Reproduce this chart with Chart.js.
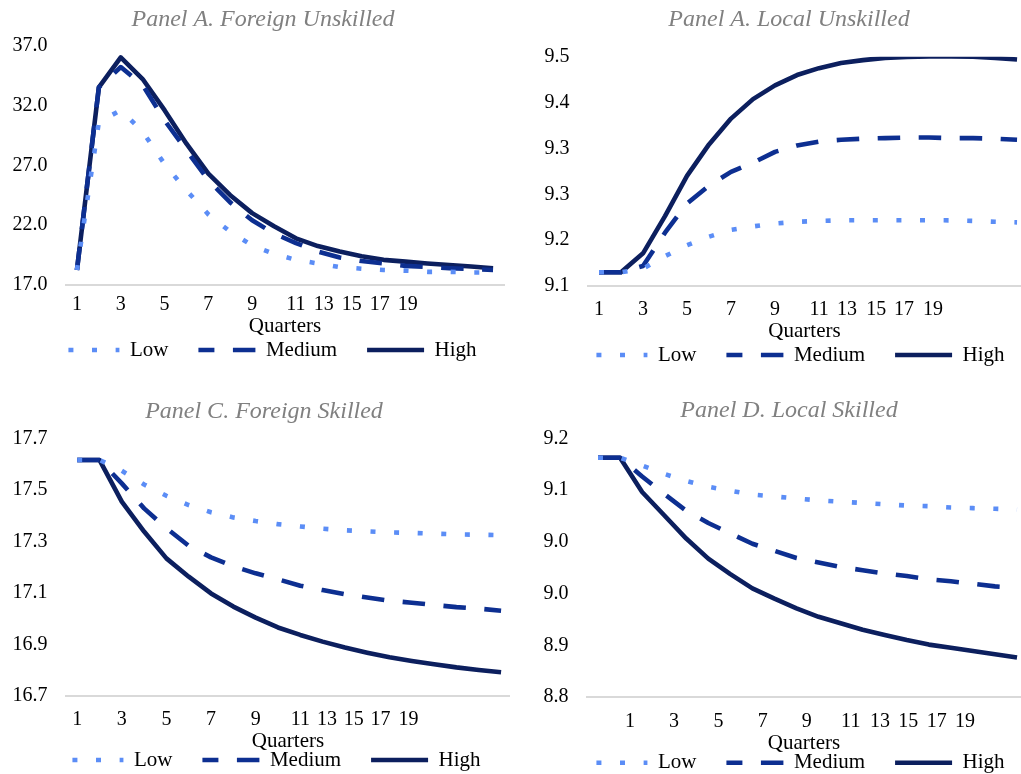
<!DOCTYPE html>
<html>
<head>
<meta charset="utf-8">
<title>Wage responses</title>
<script src="https://cdn.jsdelivr.net/npm/chart.js@4.4.1/dist/chart.umd.min.js"></script>
<style>
  html, body { margin: 0; padding: 0; background: #fff; width: 1021px; height: 774px; overflow: hidden; }
  canvas { position: absolute; }
</style>
</head>
<body>
<canvas id="panelA" width="510" height="401" style="left:0;top:0"></canvas>
<canvas id="panelB" width="511" height="406" style="left:510px;top:0"></canvas>
<canvas id="panelC" width="510" height="426" style="left:0;top:390px"></canvas>
<canvas id="panelD" width="511" height="427" style="left:510px;top:390px"></canvas>
<script>
Chart.defaults.font.family = "'Liberation Serif', 'Times New Roman', serif";
Chart.defaults.color = '#000';

// x categories and the tick labels shown under each panel
const quarters = [1, 2, 3, 4, 5, 6, 7, 8, 9, 10, 11, 12, 13, 14, 15, 16, 17, 18, 19, 20];
const quarterTicks = ['1', '3', '5', '7', '9', '11', '13', '15', '17', '19'];
const seriesNames = ['Low', 'Medium', 'High'];

// Panel A. Foreign Unskilled
const foreignUnskilledLow = [18.25, 30.6, 31.6, 29.8, 27.1, 24.9, 22.9, 21.45, 20.3, 19.6, 19.1, 18.8, 18.5, 18.36, 18.25, 18.2, 18.1, 18.1, 18.05, 18.05];
const foreignUnskilledMedium = [18.25, 33.5, 35.2, 33.7, 30.75, 28.25, 25.75, 23.9, 22.4, 21.3, 20.5, 19.8, 19.3, 19.0, 18.8, 18.6, 18.5, 18.4, 18.33, 18.25];
const foreignUnskilledHigh = [18.25, 33.5, 36.0, 34.2, 31.6, 28.8, 26.3, 24.5, 23.0, 21.9, 20.9, 20.25, 19.8, 19.4, 19.1, 18.95, 18.8, 18.67, 18.55, 18.4];

// Panel A. Local Unskilled
const localUnskilledLow = [9.124, 9.124, 9.130, 9.152, 9.171, 9.186, 9.198, 9.204, 9.209, 9.212, 9.2135, 9.2145, 9.2147, 9.2147, 9.2147, 9.2147, 9.2145, 9.2135, 9.212, 9.211];
const localUnskilledMedium = [9.124, 9.124, 9.135, 9.193, 9.244, 9.275, 9.299, 9.315, 9.334, 9.345, 9.352, 9.355, 9.357, 9.358, 9.359, 9.359, 9.358, 9.358, 9.357, 9.355];
const localUnskilledHigh = [9.124, 9.124, 9.157, 9.222, 9.292, 9.347, 9.392, 9.426, 9.450, 9.468, 9.480, 9.489, 9.494, 9.498, 9.4995, 9.5005, 9.5005, 9.500, 9.498, 9.495];

// Panel C. Foreign Skilled
const foreignSkilledLow = [17.616, 17.616, 17.574, 17.521, 17.477, 17.441, 17.413, 17.393, 17.379, 17.367, 17.358, 17.349, 17.343, 17.339, 17.335, 17.333, 17.330, 17.327, 17.326, 17.324];
const foreignSkilledMedium = [17.616, 17.616, 17.525, 17.428, 17.351, 17.283, 17.238, 17.203, 17.176, 17.153, 17.128, 17.111, 17.095, 17.082, 17.070, 17.062, 17.053, 17.045, 17.039, 17.031];
const foreignSkilledHigh = [17.616, 17.616, 17.454, 17.338, 17.234, 17.163, 17.098, 17.047, 17.004, 16.966, 16.937, 16.911, 16.888, 16.868, 16.850, 16.836, 16.823, 16.811, 16.801, 16.792];

// Panel D. Local Skilled
const localSkilledLow = [9.170, 9.170, 9.158, 9.145, 9.134, 9.125, 9.119, 9.113, 9.110, 9.107, 9.104, 9.102, 9.100, 9.098, 9.096, 9.095, 9.093, 9.092, 9.091, 9.090];
const localSkilledMedium = [9.170, 9.170, 9.141, 9.114, 9.088, 9.069, 9.053, 9.037, 9.026, 9.015, 9.008, 9.001, 8.996, 8.991, 8.987, 8.982, 8.979, 8.975, 8.971, 8.969];
const localSkilledHigh = [9.170, 9.170, 9.117, 9.081, 9.045, 9.014, 8.990, 8.968, 8.952, 8.937, 8.924, 8.914, 8.904, 8.896, 8.888, 8.881, 8.876, 8.871, 8.866, 8.861];

// y ranges [min, max, step]
const yRangeA = [17, 37, 5];
const yRangeB = [9.1, 9.5, 0.08];
const yRangeC = [16.7, 17.7, 0.2];
const yRangeD = [8.8, 9.2, 0.08];

// legendOffset lines the legend sample dashes up the way the reference shows them
const seriesStyle = [
    { color: '#5b8df6', dash: [5, 18.6], legendOffset: 17.6 },
    { color: '#0d2f91', dash: [22.5, 18.5], legendOffset: 6.5 },
    { color: '#0c1f5e', dash: [], legendOffset: 0 }
];

// layout of each panel: right padding, y axis width, title/axis spacing,
// where the quarter labels sit and where title and legend are centred
const boxA = { R: 6, W: 66, titleTop: 5.6, titleBottom: 11.1, tickPad: 8, axisH: 54.3, padB: 0.7, xMax: 20.5,
    titleX: 263, legendX: 269.5, legendY: 350,
    tickPos: [1, 3, 5, 7, 9, 11, 12.27, 13.55, 14.83, 16.1] };
const boxB = { R: 0, W: 78, titleTop: 5.6, titleBottom: 22.3, tickPad: 12, axisH: 58.3, padB: 0.7, xMax: 20.18,
    titleX: 279, legendX: 287.5, legendY: 355,
    tickPos: [1, 3, 5, 7, 9, 11, 12.27, 13.6, 14.86, 16.18] };
const boxC = { R: 0, W: 66, titleTop: 7.3, titleBottom: 12.2, tickPad: 12, axisH: 58.3, padB: 0.7, xMax: 20.4,
    titleX: 264, legendX: 273.5, legendY: 370,
    tickPos: [1, 3, 5, 7, 9, 11, 12.2, 13.4, 14.6, 15.85] };
const boxD = { R: 0, W: 77, titleTop: 6.3, titleBottom: 13.2, tickPad: 12.7, axisH: 58.6, padB: 0.4, xMax: 20.18,
    titleX: 279, legendX: 287.5, legendY: 372.7,
    tickPos: [2.45, 4.45, 6.46, 8.47, 10.46, 12.46, 13.79, 15.07, 16.36, 17.64] };

// moves the title and legend blocks to where the reference puts them
const placeBoxes = {
    id: 'placeBoxes',
    afterLayout(chart, args, opts) {
        const t = chart.titleBlock;
        const dt = opts.titleX - (t.left + t.right) / 2;
        t.left += dt;
        t.right += dt;

        const lg = chart.legend;
        const labels = lg.options.labels;
        const dx = opts.legendX - (lg.left + lg.right) / 2;
        const dy = opts.legendY - (lg.top + labels.padding + labels.font.size / 2);
        lg.left += dx;
        lg.right += dx;
        lg.top += dy;
        lg.bottom += dy;
    }
};

function drawPanel(id, title, values, yRange, box) {
    const ctx = document.getElementById(id).getContext('2d');
    return new Chart(ctx, {
        type: 'line',
        data: {
            labels: quarters,
            datasets: values.map((v, i) => ({
                label: seriesNames[i],
                data: v,
                borderColor: seriesStyle[i].color,
                backgroundColor: seriesStyle[i].color,
                borderWidth: 4.6,
                borderDash: seriesStyle[i].dash,
                borderCapStyle: 'butt',
                borderJoinStyle: 'round',
                pointRadius: 0,
                tension: 0,
                fill: false
            }))
        },
        plugins: [placeBoxes],
        options: {
            responsive: false,
            animation: false,
            events: [],
            layout: { padding: { left: 0, right: box.R, top: 0, bottom: box.padB } },
            plugins: {
                placeBoxes: { titleX: box.titleX, legendX: box.legendX, legendY: box.legendY },
                title: {
                    display: true,
                    text: title,
                    color: '#808080',
                    font: { size: 24, style: 'italic', weight: 'normal' },
                    padding: { top: box.titleTop, bottom: box.titleBottom }
                },
                legend: {
                    position: 'bottom',
                    labels: {
                        usePointStyle: true,
                        pointStyleWidth: 57,
                        padding: 30,
                        color: '#000',
                        font: { size: 21 },
                        generateLabels: chart => chart.data.datasets.map((ds, i) => ({
                            text: ds.label,
                            datasetIndex: i,
                            fillStyle: ds.borderColor,
                            strokeStyle: ds.borderColor,
                            lineWidth: ds.borderWidth,
                            lineDash: ds.borderDash,
                            lineDashOffset: seriesStyle[i].legendOffset,
                            lineCap: 'butt',
                            pointStyle: 'line',
                            fontColor: '#000'
                        }))
                    }
                },
                tooltip: { enabled: false }
            },
            scales: {
                x: {
                    type: 'linear',
                    min: 0.5,
                    max: box.xMax,
                    grid: { display: false, drawTicks: false },
                    border: { display: true, color: '#d9d9d9', width: 2 },
                    ticks: {
                        autoSkip: false,
                        maxRotation: 0,
                        padding: box.tickPad,
                        font: { size: 20 },
                        callback: (v, i) => quarterTicks[i]
                    },
                    afterBuildTicks: s => { s.ticks = box.tickPos.map(p => ({ value: p })); },
                    afterFit: s => { s.height = box.axisH; },
                    title: { display: true, text: 'Quarters', font: { size: 21 }, padding: { top: 0, bottom: 0 } }
                },
                y: {
                    min: yRange[0],
                    max: yRange[1],
                    grid: { display: false, drawTicks: false },
                    border: { display: false },
                    ticks: {
                        stepSize: yRange[2],
                        padding: 18.5,
                        font: { size: 20 },
                        callback: v => v.toFixed(1)
                    },
                    afterFit: s => { s.width = box.W; }
                }
            }
        }
    });
}

drawPanel('panelA', 'Panel A. Foreign Unskilled',
    [foreignUnskilledLow, foreignUnskilledMedium, foreignUnskilledHigh], yRangeA, boxA);
drawPanel('panelB', 'Panel A. Local Unskilled',
    [localUnskilledLow, localUnskilledMedium, localUnskilledHigh], yRangeB, boxB);
drawPanel('panelC', 'Panel C. Foreign Skilled',
    [foreignSkilledLow, foreignSkilledMedium, foreignSkilledHigh], yRangeC, boxC);
drawPanel('panelD', 'Panel D. Local Skilled',
    [localSkilledLow, localSkilledMedium, localSkilledHigh], yRangeD, boxD);
</script>
</body>
</html>
